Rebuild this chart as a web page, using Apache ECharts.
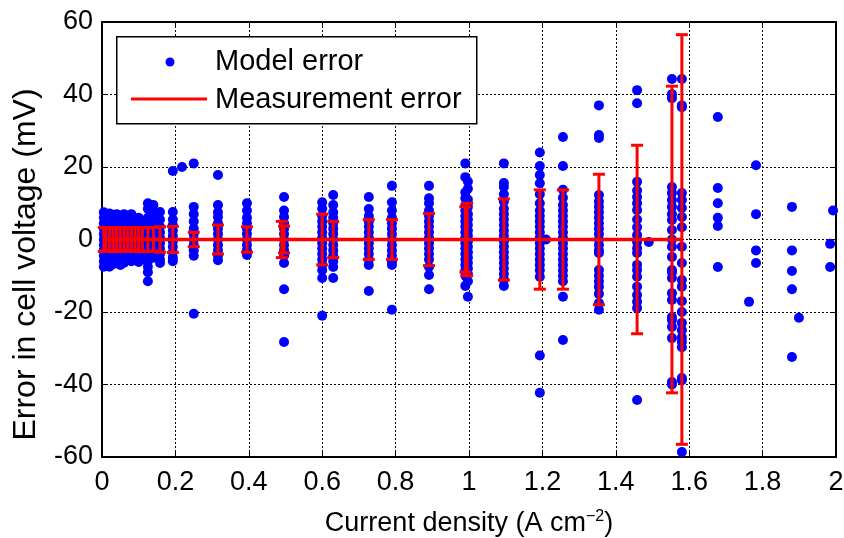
<!DOCTYPE html>
<html><head><meta charset="utf-8">
<script src="https://cdn.jsdelivr.net/npm/echarts@6/dist/echarts.min.js"></script>
<style>html,body{margin:0;padding:0;background:#fff}#c{width:844px;height:538px}</style>
</head><body><div id="c"></div><script>
// Model error: x position of each column of points (A cm^-2) and the errors (mV) in it
const colX = [0.005,0.01,0.015,0.02,0.03,0.04,0.05,0.06,0.07,0.08,0.09,0.1,0.115,0.125,0.14,0.158,0.193,0.218,0.25,0.316,0.395,0.496,0.60,0.63,0.727,0.79,0.891,0.99,0.997,1.095,1.193,1.21,1.256,1.354,1.458,1.49,1.553,1.58,1.678,1.763,1.782,1.88,1.899,1.984,1.992];
const colY = [
  [7.5,6,4.5,3,1.5,0,-1.5,-3,-4.5,-6,-7.5],
  [7,5.5,4,2.5,1,-0.5,-2,-3.5,-5,-6.5],
  [6.5,5,3.5,2,0.5,-1,-2.5,-4,-5.5,-7],
  [7.2,5.8,4.2,2.8,1.2,-0.3,-1.8,-3.3,-4.8,-6.3,-7.5],
  [6.8,5.2,3.8,2.2,0.8,-0.8,-2.2,-3.8,-5.2,-6.8],
  [7,5.5,4,2.5,1,-0.5,-2,-3.5,-5,-6.5],
  [6.5,5,3.5,2,0.5,-1,-2.5,-4,-5.5,-7],
  [7,5.6,4.1,2.6,1.1,-0.4,-1.9,-3.4,-4.9,-6.4],
  [6.3,4.8,3.3,1.8,0.3,-1.2,-2.7,-4.2,-5.7],
  [7,5.5,4,2.5,1,-0.5,-2,-3.5,-5,-6],
  [5.5,4,2.5,1,-0.5,-2,-3.5,-5],
  [6,4.5,3,1.5,0,-1.5,-3,-4.5,-6.2],
  [5,3.5,2,0.5,-1,-2.5,-4,-5.5],
  [10,8.5,6,4.5,3,1.5,0,-1.5,-3,-4.5,-6,-7.5,-9,-11.5],
  [9.5,7.6,5.5,4,2.5,1,-0.5,-2,-3.5,-5],
  [7.6,5.5,3.5,2,0.5,-1,-2.5,-4,-5.5,-6.5],
  [18.9,7.6,5.5,4,2.5,1,-0.5,-2,-3.5,-5,-6],
  [20],
  [21,9,7,5,3,1.5,0,-1.5,-3,-4.5,-20.5],
  [17.8,9.5,7.5,6.2,4.5,3,1.5,0,-1.5,-3,-4.5,-5.7],
  [10,8,6,4.5,3,1.5,0,-1.5,-3,-4.3],
  [11.7,8,6.2,4.5,3,1.5,0,-1.5,-3,-4.5,-6.5,-13.7,-28.3],
  [10.3,8.5,6.5,5,3.5,2,0.5,-1,-2.5,-4,-5.5,-7,-8.5,-10.6,-21],
  [12.3,9.5,7.5,6,4.5,3,1.5,0,-1.5,-3,-4.5,-6,-7.6,-10.6],
  [11.7,8.4,6.5,5,3.5,2,0.5,-1,-2.5,-4,-5.5,-7,-14.2],
  [14.8,10.3,8,6,4.5,3,1.5,0,-1.5,-3,-4.5,-6,-7,-19.4],
  [14.8,11.4,10,8,6.5,5,3.5,2,0.5,-1,-2.5,-4,-5.5,-7.6,-9.8,-13.7],
  [21,17.2,13,11.4,9.5,8,6.5,5,3.5,2,0.5,-1,-2.5,-4,-5.5,-7,-8.5,-10,-12.8],
  [16,14,11,9,7,5.5,4,2.5,1,-0.5,-2,-3.5,-5,-6.5,-8,-9.5,-11.5,-15.8],
  [21,15.6,14.5,12.5,10.5,8.5,7,5.5,4,2.5,1,-0.5,-2,-3.5,-5,-6.5,-8,-9.5,-11,-12.8],
  [24,20.3,17.8,15.5,12.5,10,8,6.5,5,3.5,2,0.5,-1,-2.5,-4,-5.5,-7,-8.5,-10.3,-32,-42.3],
  [0],
  [28.3,20.3,13.7,11.5,9.5,8,6.5,5,3.5,2,0.5,-1,-2.5,-4,-5.5,-7,-8.5,-10,-11.5,-15.8,-27.7],
  [37,28.8,28,12.3,10.5,9,7.5,6,4.5,3,1.5,0,-1.5,-3,-3.7,-8.4,-10,-11.5,-13,-15,-17.5,-19.4],
  [41.2,37.6,15.9,13.5,11.7,10,8.1,5.5,3.4,1.2,-0.7,-2.4,-3.7,-7,-8.4,-10.3,-13,-15.3,-17.2,-18.9,-44.3],
  [-0.7],
  [44.3,40.1,39,14.5,12.8,10.9,9,7,5.4,2.6,0,-2,-4.8,-8.4,-9,-10.6,-14.8,-16.7,-21.4,-22.2,-24.1,-27.2,-39.3,-40],
  [44.3,37,36.5,12.8,10.9,8.7,6.2,3.4,-2,-6.5,-11.2,-13,-17,-20,-23,-25,-27,-28.3,-29.7,-38.2,-38.8,-58.6],
  [33.8,14.2,10,6,3.7,-7.6],
  [-17.2],
  [20.5,7,-3,-6.5],
  [9,-3,-8.7,-13.7,-32.4],
  [-21.6],
  [-1.2,-7.6],
  [8]
];
// Measurement error: x positions and half-widths (mV), centred on zero
const measX = [0.005,0.01,0.02,0.03,0.04,0.05,0.06,0.07,0.08,0.09,0.1,0.11,0.125,0.14,0.158,0.193,0.25,0.316,0.395,0.49,0.496,0.60,0.63,0.727,0.79,0.891,0.99,0.995,1.095,1.193,1.256,1.354,1.458,1.553,1.58];
const measErr = [3.3,3.2,3.3,3.1,3.2,3.3,3,3.2,3.1,3.3,3.2,3.3,3.3,3.3,3.5,3.6,2,4,3.5,5,3.7,7,5,5.5,5.5,7.2,9,10,11.2,13.7,13.7,18,26,42.3,56.5];
const seriesNames = ['Model error','Measurement error'];
const xName = 'Current density (A cm';
const yName = 'Error in cell voltage (mV)';

const scatterData = [];
colX.forEach((x,i)=>colY[i].forEach(y=>scatterData.push([x,y])));
const errData = measX.map((x,i)=>[x,measErr[i]]);
const lineData = measX.map(x=>[x,0]);

const FONT = 'Liberation Sans, Arial, sans-serif';
const chart = echarts.init(document.getElementById('c'));
chart.setOption({
  animation:false,
  backgroundColor:'#fff',
  grid:{left:102,right:8,top:22,bottom:81,containLabel:false,outerBoundsMode:'none'},
  xAxis:[{
    type:'value', min:0, max:2, interval:0.2, position:'bottom',
    axisLine:{onZero:false,lineStyle:{color:'#000',width:2}},
    axisTick:{inside:true,length:5,lineStyle:{color:'#000',width:1}},
    axisLabel:{color:'#000',fontSize:27,fontFamily:FONT,margin:12},
    splitLine:{show:true,lineStyle:{color:'#000',width:1,type:[2,2]}},
    name:xName+'{sup|−2})', nameLocation:'middle', nameGap:52,
    nameTextStyle:{color:'#000',fontSize:27,fontFamily:FONT,rich:{sup:{fontSize:16,fontFamily:FONT,color:'#000',padding:[0,0,14,0]}}}
  },{
    type:'value', min:0, max:2, interval:0.2, position:'top',
    axisLine:{onZero:false,lineStyle:{color:'#000',width:2}},
    axisTick:{inside:true,length:5,lineStyle:{color:'#000',width:1}},
    axisLabel:{show:false}, splitLine:{show:false}
  }],
  yAxis:[{
    type:'value', min:-60, max:60, interval:20, position:'left',
    axisLine:{onZero:false,lineStyle:{color:'#000',width:2}},
    axisTick:{inside:true,length:5,lineStyle:{color:'#000',width:1}},
    axisLabel:{color:'#000',fontSize:27,fontFamily:FONT,margin:9},
    splitLine:{show:true,lineStyle:{color:'#000',width:1,type:[2,2]}},
    name:yName, nameLocation:'middle', nameGap:60, nameRotate:90,
    nameTextStyle:{color:'#000',fontSize:32,fontFamily:FONT,padding:[0,50,0,0]}
  },{
    type:'value', min:-60, max:60, interval:20, position:'right',
    axisLine:{onZero:false,lineStyle:{color:'#000',width:2}},
    axisTick:{inside:true,length:5,lineStyle:{color:'#000',width:1}},
    axisLabel:{show:false}, splitLine:{show:false}
  }],
  series:[{
    name:seriesNames[0], type:'scatter', data:scatterData, symbol:'circle', symbolSize:10,
    itemStyle:{color:'#0000ff',opacity:1}, z:2
  },{
    name:seriesNames[1], type:'line', data:lineData, showSymbol:false, symbol:'none',
    lineStyle:{color:'#ff0000',width:3.5}, z:3
  },{
    name:seriesNames[1]+' bars', type:'custom', data:errData, z:4,
    renderItem:function(params,api){
      const x=api.value(0), e=api.value(1);
      const t=api.coord([x,e]), b=api.coord([x,-e]);
      const hw=6, st={stroke:'#ff0000',lineWidth:3};
      return {type:'group',children:[
        {type:'line',shape:{x1:t[0],y1:t[1],x2:b[0],y2:b[1]},style:st},
        {type:'line',shape:{x1:t[0]-hw,y1:t[1],x2:t[0]+hw,y2:t[1]},style:st},
        {type:'line',shape:{x1:b[0]-hw,y1:b[1],x2:b[0]+hw,y2:b[1]},style:st}
      ]};
    }
  }],
  graphic:[
    {type:'rect',left:116,top:36,z:100,shape:{width:360,height:87},style:{fill:'#fff',stroke:'#000',lineWidth:1.5}},
    {type:'circle',z:101,shape:{cx:170,cy:62,r:4.5},style:{fill:'#0000ff'}},
    {type:'line',z:101,shape:{x1:131,y1:99,x2:207,y2:99},style:{stroke:'#ff0000',lineWidth:3}},
    {type:'text',z:101,x:215,y:62,style:{text:seriesNames[0],font:'29px '+FONT,fill:'#000',textVerticalAlign:'middle',verticalAlign:'middle'}},
    {type:'text',z:101,x:215,y:100,style:{text:seriesNames[1],font:'29px '+FONT,fill:'#000',textVerticalAlign:'middle',verticalAlign:'middle'}}
  ]
});
</script></body></html>
